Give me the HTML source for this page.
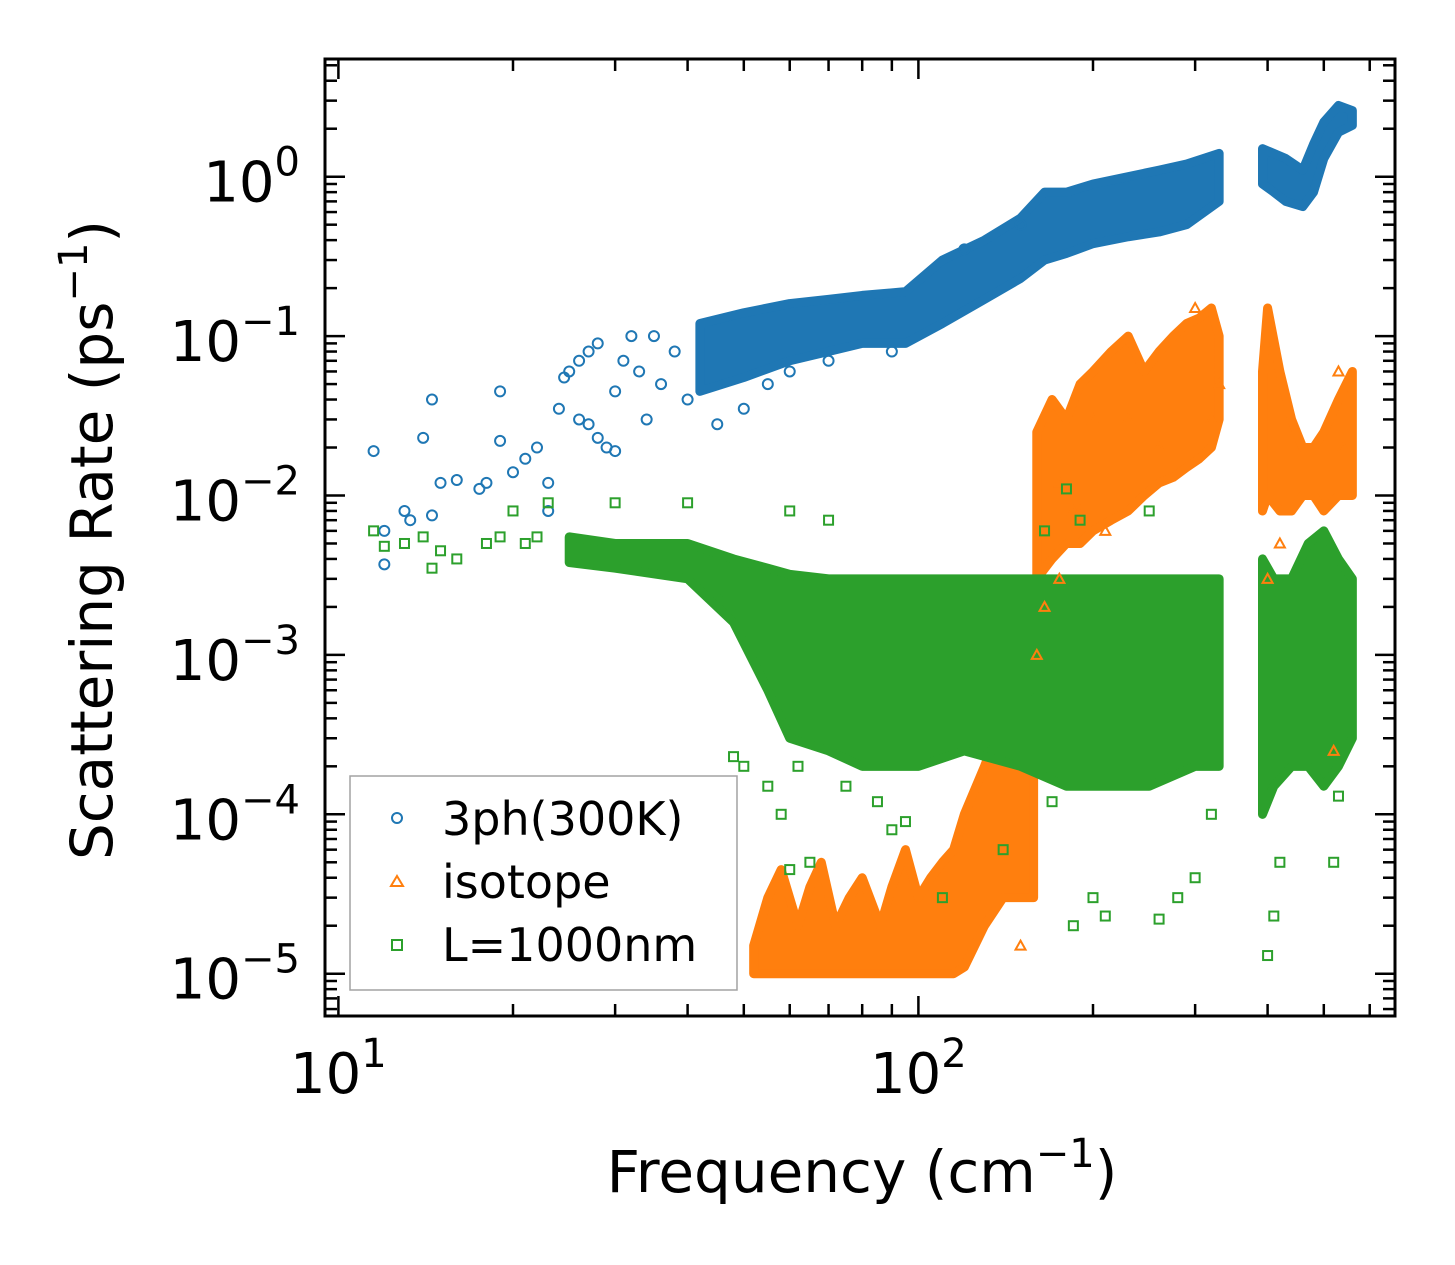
<!DOCTYPE html>
<html><head><meta charset="utf-8"><style>
html,body{margin:0;padding:0;background:#fff;}
svg{display:block;font-family:"DejaVu Sans","Liberation Sans",sans-serif;}
</style></head><body>
<svg id="chart" width="1455" height="1265" viewBox="0 0 1455 1265" xmlns="http://www.w3.org/2000/svg">
<rect width="1455" height="1265" fill="#fff"/>
<g id="bands"></g>
<g id="points"></g>
<g id="axes"></g>
<text x="862" y="1192" font-size="58" text-anchor="middle">Frequency (cm<tspan font-size="40" dy="-25">−1</tspan><tspan dy="25">)</tspan></text>
<text transform="translate(112,540) rotate(-90)" font-size="58" text-anchor="middle">Scattering Rate (ps<tspan font-size="40" dy="-25">−1</tspan><tspan dy="25">)</tspan></text>
<g>
<rect x="350" y="776" width="387" height="214" fill="#fff" stroke="#999" stroke-width="1.5" opacity="0.9"/>
<circle cx="397" cy="818" r="5" fill="none" stroke="#1f77b4" stroke-width="2"/>
<text x="442" y="835" font-size="46">3ph(300K)</text>
<polygon points="397,876 403,886 391,886" fill="none" stroke="#ff7f0e" stroke-width="2"/>
<text x="442" y="898" font-size="46">isotope</text>
<rect x="392" y="940" width="10" height="10" fill="none" stroke="#2ca02c" stroke-width="2"/>
<text x="442" y="961" font-size="46">L=1000nm</text>
</g>
</svg>
<script>
// ---- data ----
const blueBandFreq=[42,50,60,70,80,95,110,130,150,165,180,200,230,260,290,330];
const blueBandLo=[0.045,0.055,0.07,0.08,0.09,0.09,0.12,0.17,0.23,0.3,0.33,0.38,0.42,0.45,0.5,0.7];
const blueBandHi=[0.12,0.14,0.16,0.17,0.18,0.19,0.3,0.4,0.55,0.8,0.8,0.9,1.0,1.1,1.2,1.4];
const blueBand2Freq=[392,410,430,460,480,500,530,560];
const blueBand2Lo=[0.9,0.8,0.7,0.65,0.8,1.3,1.9,2.1];
const blueBand2Hi=[1.5,1.4,1.3,1.1,1.6,2.2,2.8,2.6];
const orangeBandFreq=[52,55,58,62,65,68,72,76,80,86,90,95,100,105,110,115,120,130,140,150,158];
const orangeBandLo=[1e-5,1e-5,1e-5,1e-5,1e-5,1e-5,1e-5,1e-5,1e-5,1e-5,1e-5,1e-5,1e-5,1e-5,1e-5,1e-5,1.1e-5,2e-5,3e-5,3e-5,3e-5];
const orangeBandHi=[1.5e-5,3e-5,4.5e-5,2e-5,3.5e-5,5e-5,2e-5,3e-5,4e-5,2e-5,3.5e-5,6e-5,3e-5,4e-5,5e-5,6e-5,1e-4,2e-4,4e-4,8e-4,1e-3];
const orangeBand2Freq=[160,170,180,190,200,215,230,245,260,275,290,305,320,330];
const orangeBand2Lo=[3e-3,4e-3,5e-3,5e-3,6e-3,7e-3,8e-3,1e-2,1.2e-2,1.3e-2,1.5e-2,1.7e-2,2e-2,3e-2];
const orangeBand2Hi=[2.5e-2,4e-2,3e-2,5e-2,6e-2,8e-2,0.1,0.06,0.08,0.1,0.12,0.13,0.15,0.1];
const orangeBand3Freq=[392,400,420,440,460,480,500,530,560];
const orangeBand3Lo=[8e-3,1e-2,8e-3,8e-3,1e-2,1e-2,8e-3,1e-2,1e-2];
const orangeBand3Hi=[0.06,0.15,0.06,0.03,0.02,0.02,0.025,0.04,0.06];
const greenBandFreq=[25,30,40,48,55,60,70,80,100,120,150,180,200,250,300,330];
const greenBandLo=[3.8e-3,3.5e-3,3e-3,1.6e-3,6e-4,3e-4,2.5e-4,2e-4,2e-4,2.5e-4,2e-4,1.5e-4,1.5e-4,1.5e-4,2e-4,2e-4];
const greenBandHi=[5.5e-3,5e-3,5e-3,4e-3,3.5e-3,3.2e-3,3e-3,3e-3,3e-3,3e-3,3e-3,3e-3,3e-3,3e-3,3e-3,3e-3];
const greenBand2Freq=[392,410,440,470,500,530,560];
const greenBand2Lo=[1e-4,1.5e-4,2e-4,2e-4,1.5e-4,2e-4,3e-4];
const greenBand2Hi=[4e-3,3e-3,3e-3,5e-3,6e-3,4e-3,3e-3];
const blueFreq=[11.5,12,12,13,13.3,14,14.5,14.5,15,16,17.5,18,19,19,20,21,22,23,23,24,24.5,25,26,27,28,26,27,28,29,30,30,31,32,33,34,35,36,38,40,45,50,55,60,70,90,120,150];
const blueRate=[0.019,0.006,0.0037,0.008,0.007,0.023,0.04,0.0075,0.012,0.0125,0.011,0.012,0.045,0.022,0.014,0.017,0.02,0.008,0.012,0.035,0.055,0.06,0.07,0.08,0.09,0.03,0.028,0.023,0.02,0.019,0.045,0.07,0.1,0.06,0.03,0.1,0.05,0.08,0.04,0.028,0.035,0.05,0.06,0.07,0.08,0.35,0.5];
const orangeFreq=[160,165,175,185,200,230,260,300,320,330,400,420,520,530,540,175,190,210,150];
const orangeRate=[1e-3,2e-3,3e-3,8e-3,3e-2,0.03,0.02,0.15,0.03,0.05,0.003,0.005,2.5e-4,0.06,0.02,0.012,0.008,0.006,1.5e-5];
const greenFreq=[11.5,12,13,14,14.5,15,16,18,19,20,21,22,23,30,35,40,45,48,50,55,60,65,90,95,110,140,170,180,185,200,210,260,280,300,320,400,410,420,520,530,190,165,60,70,250,58,62,75,85,130,160];
const greenRate=[0.006,0.0048,0.005,0.0055,0.0035,0.0045,0.004,0.005,0.0055,0.008,0.005,0.0055,0.009,0.009,0.0035,0.009,0.0025,0.00023,0.0002,0.00015,4.5e-5,5e-5,8e-5,9e-5,3e-5,6e-5,1.2e-4,1.1e-2,2e-5,3e-5,2.3e-5,2.2e-5,3e-5,4e-5,1e-4,1.3e-5,2.3e-5,5e-5,5e-5,1.3e-4,7e-3,6e-3,8e-3,7e-3,8e-3,1e-4,2e-4,1.5e-4,1.2e-4,2.5e-4,6e-4];
const xTickVals=[10,100];
const xTickExps=["1","2"];
const yTickVals=[1,0.1,0.01,0.001,0.0001,0.00001];
const yTickExps=["0","−1","−2","−3","−4","−5"];

// ---- axes ----
const L=325,R=1395,T=59,B=1016;
const X10=338.4,DX=580,Y0=176.7,DY=159.4;
const xs=f=>X10+(Math.log10(f)-1)*DX;
const ys=v=>Y0-Math.log10(v)*DY;
const NS="http://www.w3.org/2000/svg";
function mk(tag,attrs,parent){const e=document.createElementNS(NS,tag);for(const k in attrs)e.setAttribute(k,attrs[k]);parent.appendChild(e);return e;}
const C={b:"#1f77b4",o:"#ff7f0e",g:"#2ca02c"};
const bands=document.getElementById('bands'),pts=document.getElementById('points'),axes=document.getElementById('axes');

function band(fr,lo,hi,col,name){
  const top=fr.map((f,i)=>xs(f)+','+ys(hi[i]));
  const bot=fr.map((f,i)=>xs(f)+','+ys(lo[i])).reverse();
  const p=mk('polygon',{points:top.concat(bot).join(' '),fill:col,stroke:col,'stroke-width':9,'stroke-linejoin':'round'},bands);
  
  
}
band(blueBandFreq,blueBandLo,blueBandHi,C.b,'3ph-dense-band');
band(blueBand2Freq,blueBand2Lo,blueBand2Hi,C.b,'3ph-dense-band-high');
band(orangeBandFreq,orangeBandLo,orangeBandHi,C.o,'isotope-band-low');
band(orangeBand2Freq,orangeBand2Lo,orangeBand2Hi,C.o,'isotope-band-mid');
band(orangeBand3Freq,orangeBand3Lo,orangeBand3Hi,C.o,'isotope-band-high');
band(greenBandFreq,greenBandLo,greenBandHi,C.g,'boundary-dense-band');
band(greenBand2Freq,greenBand2Lo,greenBand2Hi,C.g,'boundary-dense-band-high');

blueFreq.forEach((f,i)=>{const e=mk('circle',{cx:xs(f),cy:ys(blueRate[i]),r:5,fill:'none',stroke:C.b,'stroke-width':2},pts);

});
orangeFreq.forEach((f,i)=>{const x=xs(f),y=ys(orangeRate[i]);const e=mk('polygon',{points:`${x},${y-5} ${x+5},${y+4} ${x-5},${y+4}`,fill:'none',stroke:C.o,'stroke-width':2},pts);

});
greenFreq.forEach((f,i)=>{const e=mk('rect',{x:xs(f)-4.5,y:ys(greenRate[i])-4.5,width:9,height:9,fill:'none',stroke:C.g,'stroke-width':2},pts);

});

const frame=mk('rect',{x:L,y:T,width:R-L,height:B-T,fill:'none',stroke:'#000','stroke-width':3},axes);


function tl(x1,y1,x2,y2){mk('line',{x1,y1,x2,y2,stroke:'#000','stroke-width':2.5},axes);}
for(let d=1;d<=2;d++)for(let m=1;m<10;m++){const f=m*Math.pow(10,d);const x=xs(f);if(x<L||x>R)continue;const len=m===1?20:12;tl(x,B,x,B-len);tl(x,T,x,T+len);}
for(let d=-6;d<=0;d++)for(let m=1;m<10;m++){const v=m*Math.pow(10,d);const y=ys(v);if(y<T||y>B)continue;const len=m===1?20:12;tl(L,y,L+len,y);tl(R,y,R-len,y);}
xTickVals.forEach((v,i)=>{const t=mk('text',{x:xs(v),y:1093,'font-size':56,'text-anchor':'middle'},axes);


t.innerHTML='10<tspan font-size="40" dy="-26">'+xTickExps[i]+'</tspan>';});
yTickVals.forEach((v,i)=>{const t=mk('text',{x:300,y:ys(v)+25,'font-size':56,'text-anchor':'end'},axes);


t.innerHTML='10<tspan font-size="40" dy="-26">'+yTickExps[i]+'</tspan>';});
</script>
</body></html>
